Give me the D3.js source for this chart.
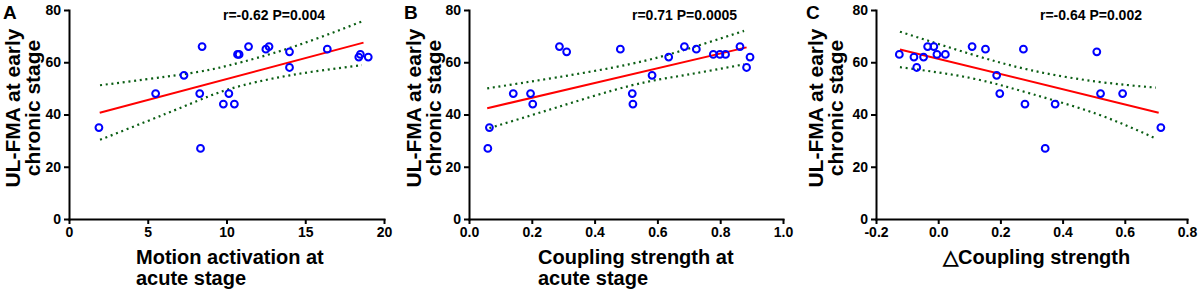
<!DOCTYPE html>
<html>
<head>
<meta charset="utf-8">
<script src="https://cdn.jsdelivr.net/npm/d3@7"></script>
<style>
  body { margin: 0; background: #fff; }
  svg text { font-family: "Liberation Sans", Arial, sans-serif; font-weight: bold; fill: #000; }
</style>
</head>
<body>
<svg id="chart"></svg>
<script>
// UL-FMA scores, same 20 patients in every panel
const motionX = [1.9, 5.5, 7.3, 8.45, 8.3, 8.35, 9.8, 10.15, 10.5, 10.7, 10.8, 11.4, 12.5, 12.7, 14.0, 14.0, 16.4, 18.4, 18.5, 19.0];
const motionY = [35, 48, 55, 66, 48, 27, 44, 48, 44, 63, 63, 66, 65, 66, 64, 58, 65, 62, 63, 62];

const couplingX = [0.06, 0.065, 0.141, 0.196, 0.203, 0.288, 0.311, 0.482, 0.52, 0.522, 0.583, 0.636, 0.686, 0.724, 0.778, 0.799, 0.817, 0.863, 0.884, 0.895];
const couplingY = [27, 35, 48, 48, 44, 66, 64, 65, 48, 44, 55, 62, 66, 65, 63, 63, 63, 66, 58, 62];

const deltaX = [-0.125, -0.078, -0.069, -0.047, -0.034, -0.014, -0.004, 0.023, 0.109, 0.152, 0.188, 0.198, 0.274, 0.279, 0.344, 0.376, 0.51, 0.522, 0.593, 0.716];
const deltaY = [63, 62, 58, 62, 66, 66, 63, 63, 66, 65, 55, 48, 65, 44, 27, 44, 64, 48, 48, 35];

// fitted lines and 95% bands
const motionFit = [[1.95, 40.7], [18.7, 67.5]];
const motionUpper = [[1.97, 51.2], [7.26, 55.4], [10.22, 58.9], [14.03, 65.5], [18.6, 75.6]];
const motionLower = [[1.97, 30.3], [7.26, 43.0], [10.22, 49.8], [14.03, 55.0], [18.6, 58.9]];

const couplingFit = [[0.058, 42.4], [0.884, 65.7]];
const couplingUpper = [[0.058, 50.0], [0.279, 54.2], [0.513, 59.3], [0.693, 65.0], [0.876, 72.0]];
const couplingLower = [[0.065, 34.8], [0.279, 42.7], [0.513, 51.0], [0.693, 55.2], [0.876, 59.2]];

const deltaFit = [[-0.123, 64.9], [0.709, 40.7]];
const deltaUpper = [[-0.123, 71.7], [0.103, 63.2], [0.30, 56.9], [0.51, 52.6], [0.70, 50.3]];
const deltaLower = [[-0.123, 58.1], [0.103, 54.0], [0.30, 47.9], [0.51, 40.2], [0.70, 30.8]];

const yTicks = [0, 20, 40, 60, 80];
const motionTicks = [0, 5, 10, 15, 20];
const couplingTicks = [0, 0.2, 0.4, 0.6, 0.8, 1.0];
const deltaTicks = [-0.2, 0, 0.2, 0.4, 0.6, 0.8];

const panelLetters = ["A", "B", "C"];
const statLabels = ["r=-0.62 P=0.004", "r=0.71 P=0.0005", "r=-0.64 P=0.002"];
const yTitle = ["UL-FMA at early", "chronic stage"];
const xTitles = [
  ["Motion activation at", "acute stage"],
  ["Coupling strength at", "acute stage"],
  ["\u25B3Coupling strength"]
];

const W = 1199, H = 291;
const svg = d3.select("#chart").attr("width", W).attr("height", H);

const fmtInt = d3.format("d");
const fmt1 = d => d3.format(".1f")(d).replace("\u2212", "-");

const panels = [
  { x0: 69, x1: 384, domain: [0, 20], ticks: motionTicks, fmt: fmtInt,
    xs: motionX, ys: motionY, fit: motionFit, up: motionUpper, lo: motionLower,
    letterX: 3, statX: 223, titleX: 136 },
  { x0: 469, x1: 783, domain: [0, 1], ticks: couplingTicks, fmt: fmt1,
    xs: couplingX, ys: couplingY, fit: couplingFit, up: couplingUpper, lo: couplingLower,
    letterX: 404, statX: 632, titleX: 538 },
  { x0: 876, x1: 1187, domain: [-0.2, 0.8], ticks: deltaTicks, fmt: fmt1,
    xs: deltaX, ys: deltaY, fit: deltaFit, up: deltaUpper, lo: deltaLower,
    letterX: 806, statX: 1040, titleX: 943 }
];

const plotTop = 10, plotBottom = 219;

panels.forEach((p, i) => {
  const g = svg.append("g");
  const x = d3.scaleLinear().domain(p.domain).range([p.x0, p.x1]);
  const y = d3.scaleLinear().domain([0, 80]).range([plotBottom, plotTop]);

  // axes
  const yAxis = g.append("g")
    .attr("transform", `translate(${p.x0},0)`)
    .call(d3.axisLeft(y).tickValues(yTicks).tickSize(5).tickSizeOuter(0).tickPadding(3));
  const xAxis = g.append("g")
    .attr("transform", `translate(0,${plotBottom})`)
    .call(d3.axisBottom(x).tickValues(p.ticks).tickFormat(p.fmt).tickSize(5).tickSizeOuter(0).tickPadding(3));

  [yAxis, xAxis].forEach(a => {
    a.select(".domain").attr("stroke", "#000").attr("stroke-width", 2).attr("stroke-linecap", "square");
    a.selectAll(".tick line").attr("stroke", "#000").attr("stroke-width", 2);
    a.selectAll(".tick text")
      .attr("font-family", null)
      .style("font-size", "14px");
  });

  // confidence band
  const curve = d3.line().x(d => x(d[0])).y(d => y(d[1])).curve(d3.curveNatural);
  [p.up, p.lo].forEach(band => {
    g.append("path")
      .attr("d", curve(band))
      .attr("fill", "none")
      .attr("stroke", "#0b5e14")
      .attr("stroke-width", 2.2)
      .attr("stroke-dasharray", "2,3.7");
  });

  // regression line
  g.append("path")
    .attr("d", d3.line().x(d => x(d[0])).y(d => y(d[1]))(p.fit))
    .attr("fill", "none")
    .attr("stroke", "#ff0000")
    .attr("stroke-width", 2);

  // patients
  g.selectAll("circle")
    .data(p.xs.map((v, k) => [v, p.ys[k]]))
    .enter()
    .append("circle")
    .attr("cx", d => x(d[0]))
    .attr("cy", d => y(d[1]))
    .attr("r", 3.4)
    .attr("fill", "none")
    .attr("stroke", "#0000ff")
    .attr("stroke-width", 2);

  // texts
  g.append("text")
    .attr("x", p.letterX)
    .attr("y", 19)
    .style("font-size", "19px")
    .text(panelLetters[i]);

  g.append("text")
    .attr("x", p.statX)
    .attr("y", 20)
    .style("font-size", "14px")
    .text(statLabels[i]);

  yTitle.forEach((t, k) => {
    g.append("text")
      .attr("transform", `translate(${p.letterX + 17 + k * 20},108) rotate(-90)`)
      .attr("text-anchor", "middle")
      .style("font-size", "21px")
      .text(t);
  });

  xTitles[i].forEach((t, k) => {
    g.append("text")
      .attr("x", p.titleX)
      .attr("y", 264 + k * 21)
      .style("font-size", "20px")
      .text(t);
  });
});
</script>
</body>
</html>
